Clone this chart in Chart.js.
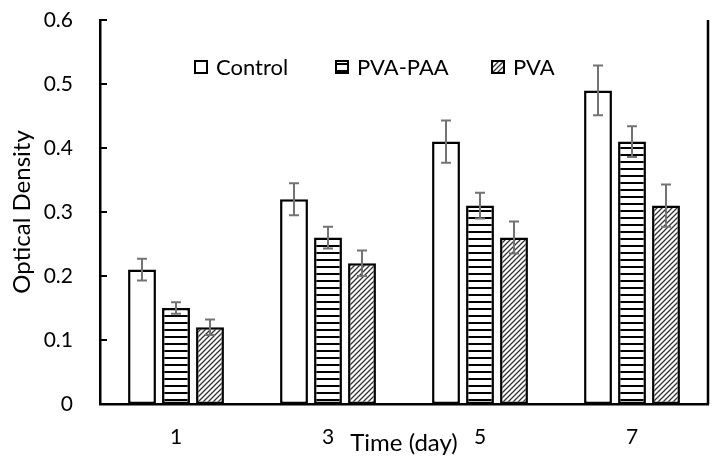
<!DOCTYPE html>
<html>
<head>
<meta charset="utf-8">
<script src="https://cdn.jsdelivr.net/npm/chart.js@4.4.1/dist/chart.umd.min.js"></script>
<style>
  body { margin: 0; background: #fff; }
</style>
</head>
<body>
<canvas id="chart" width="717" height="466"></canvas>
<script>
const days = ['1', '3', '5', '7'];
const controlData = [0.21, 0.32, 0.41, 0.49];
const pvaPaaData = [0.15, 0.26, 0.31, 0.41];
const pvaData = [0.12, 0.22, 0.26, 0.31];
const controlErr = [0.017, 0.025, 0.033, 0.039];
const pvaPaaErr = [0.009, 0.017, 0.02, 0.024];
const pvaErr = [0.012, 0.02, 0.025, 0.033];
const yTickLabels = ['0', '0.1', '0.2', '0.3', '0.4', '0.5', '0.6'];

const canvas = document.getElementById('chart');
const mainCtx = canvas.getContext('2d');

// horizontal stripes for PVA-PAA
function stripePattern() {
    const c = document.createElement('canvas');
    c.width = 8; c.height = 7;
    const g = c.getContext('2d');
    g.fillStyle = '#fff';
    g.fillRect(0, 0, 8, 7);
    g.fillStyle = '#000';
    g.fillRect(0, 0, 8, 2);
    return mainCtx.createPattern(c, 'repeat');
}

// upward diagonal hatch for PVA
function hatchPattern() {
    const c = document.createElement('canvas');
    c.width = 5; c.height = 5;
    const g = c.getContext('2d');
    g.fillStyle = '#fff';
    g.fillRect(0, 0, 5, 5);
    g.strokeStyle = '#333';
    g.lineWidth = 1.3;
    g.beginPath();
    g.moveTo(0, 5); g.lineTo(5, 0);
    g.moveTo(-1, 1); g.lineTo(1, -1);
    g.moveTo(4, 6); g.lineTo(6, 4);
    g.stroke();
    return mainCtx.createPattern(c, 'repeat');
}

Chart.defaults.font.family = 'Lato';
Chart.defaults.font.size = 21;
Chart.defaults.color = '#000';

const extras = {
    id: 'extras',
    afterDatasetsDraw(chart) {
        const ctx = chart.ctx;
        const y = chart.scales.y;
        ctx.save();
        ctx.strokeStyle = '#737373';
        ctx.lineWidth = 2;
        chart.data.datasets.forEach((ds, di) => {
            chart.getDatasetMeta(di).data.forEach((bar, i) => {
                const top = y.getPixelForValue(ds.data[i] + ds.errors[i]);
                const bot = y.getPixelForValue(ds.data[i] - ds.errors[i]);
                ctx.beginPath();
                ctx.moveTo(bar.x, top); ctx.lineTo(bar.x, bot);
                ctx.moveTo(bar.x - 5, top); ctx.lineTo(bar.x + 5, top);
                ctx.moveTo(bar.x - 5, bot); ctx.lineTo(bar.x + 5, bot);
                ctx.stroke();
            });
        });
        ctx.restore();
    },
    afterDraw(chart) {
        const ctx = chart.ctx;
        const area = chart.chartArea;
        const y = chart.scales.y;
        ctx.save();
        ctx.strokeStyle = '#000';
        ctx.lineWidth = 2.5;
        // right frame
        ctx.beginPath();
        ctx.moveTo(area.right, area.top);
        ctx.lineTo(area.right, area.bottom);
        ctx.stroke();
        // tick marks pointing inwards
        ctx.lineWidth = 2;
        y.ticks.forEach(t => {
            const py = y.getPixelForValue(t.value);
            ctx.beginPath();
            ctx.moveTo(area.left, py);
            ctx.lineTo(area.left + 7, py);
            ctx.stroke();
        });
        // legend inside the plot
        const offsets = [95, 236, 392];
        const ly = area.top + 47;
        ctx.font = '22px Lato';
        ctx.textBaseline = 'middle';
        chart.data.datasets.forEach((ds, i) => {
            const lx = area.left + offsets[i];
            ctx.fillStyle = ds.backgroundColor;
            ctx.fillRect(lx, ly - 6, 12, 12);
            ctx.lineWidth = 2;
            ctx.strokeRect(lx, ly - 6, 12, 12);
            ctx.fillStyle = '#000';
            ctx.fillText(ds.label, lx + 21, ly + 1);
        });
        ctx.restore();
    }
};

new Chart(mainCtx, {
    type: 'bar',
    data: {
        labels: days,
        datasets: [{
            label: 'Control',
            data: controlData,
            errors: controlErr,
            backgroundColor: '#fff'
        }, {
            label: 'PVA-PAA',
            data: pvaPaaData,
            errors: pvaPaaErr,
            backgroundColor: stripePattern()
        }, {
            label: 'PVA',
            data: pvaData,
            errors: pvaErr,
            backgroundColor: hatchPattern()
        }]
    },
    options: {
        responsive: false,
        animation: false,
        layout: {
            padding: { top: 20, right: 9, left: 0, bottom: 0 }
        },
        datasets: {
            bar: {
                borderColor: '#000',
                borderWidth: 2.5,
                borderSkipped: false,
                categoryPercentage: 0.671,
                barPercentage: 0.82
            }
        },
        scales: {
            x: {
                grid: { display: false },
                border: { color: '#000', width: 2.5 },
                ticks: { padding: 13 },
                title: {
                    display: true,
                    text: 'Time (day)',
                    font: { size: 24 },
                    padding: { top: 0, bottom: 8 }
                },
                afterFit(scale) {
                    scale.height = 62;
                    scale.paddingLeft = 0;
                    scale.paddingRight = 0;
                }
            },
            y: {
                min: 0,
                max: 0.6,
                grid: { display: false },
                border: { color: '#000', width: 2.5 },
                ticks: {
                    stepSize: 0.1,
                    padding: 19,
                    callback: (v, i) => yTickLabels[i]
                },
                title: {
                    display: true,
                    text: 'Optical Density',
                    font: { size: 24 },
                    padding: { top: 8, bottom: 0 }
                },
                afterFit(scale) {
                    scale.width = 100;
                    scale.paddingTop = 0;
                    scale.paddingBottom = 0;
                }
            }
        },
        plugins: {
            legend: { display: false },
            tooltip: { enabled: false }
        }
    },
    plugins: [extras]
});
</script>
</body>
</html>
